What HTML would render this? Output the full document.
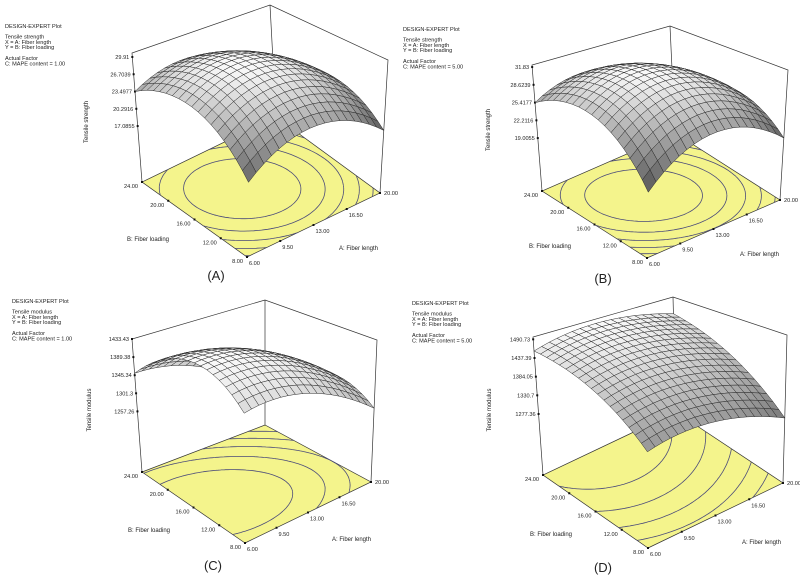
<!DOCTYPE html>
<html><head><meta charset="utf-8"><style>
html,body{margin:0;padding:0;background:#fff}
svg{display:block}
text{font-family:"Liberation Sans",sans-serif;fill:#222}
</style></head><body>
<svg id="fig" width="800" height="584" viewBox="0 0 800 584" xmlns="http://www.w3.org/2000/svg"></svg>
<script>
// ---- data ----
const aTicks = [6, 9.5, 13, 16.5, 20];
const bTicks = [8, 12, 16, 20, 24];
const zTicksA = [17.0855, 20.2916, 23.4977, 26.7039, 29.91];
const zTicksB = [19.0055, 22.2116, 25.4177, 28.6239, 31.83];
const zTicksC = [1257.26, 1301.3, 1345.34, 1389.38, 1433.43];
const zTicksD = [1277.36, 1330.7, 1384.05, 1437.39, 1490.73];
const zLabelsA = ["17.0855","20.2916","23.4977","26.7039","29.91"];
const zLabelsB = ["19.0055","22.2116","25.4177","28.6239","31.83"];
const zLabelsC = ["1257.26","1301.3","1345.34","1389.38","1433.43"];
const zLabelsD = ["1277.36","1330.7","1384.05","1437.39","1490.73"];
// model coefficients (coded units): b0, A, B, AB, A^2, B^2
const coefA = [29.6, -1.81, 0.96, -1.44, -5.3, -5.0];
const coefB = [31.6, -1.4, 1.15, -1.8, -5.4, -5.15];
const coefC = [1410.5, -59.5, -23.5, -15.5, -40, -72];
const coefD = [1434, -15.8, 74.7, 7.2, -35, -25];

const panels = [
 {id:"a", resp:"Tensile strength", mape:"1.00", label:"(A)", coef:coefA, zt:zTicksA, zl:zLabelsA, zF:6.7, zT:30.65, gmin:75,
  F00:[247,257],F10:[380,193],F01:[142,182],F11:[276,117],T00:[250,108],T10:[388,60],T01:[132,53],T11:[270,5],
  txt:[5,28], ylab:[88,122], blab:[127,241], alab:[339,250], plab:[216,280]},
 {id:"b", resp:"Tensile strength", mape:"5.00", label:"(B)", coef:coefB, zt:zTicksB, zl:zLabelsB, zF:9.45, zT:32.2, gmin:75,
  F00:[647,258],F10:[780,200],F01:[542,191],F11:[675,133],T00:[650,109],T10:[788,70],T01:[532,65],T11:[670,26],
  txt:[403,31], ylab:[490,130], blab:[529,248], alab:[740,256], plab:[603,283]},
 {id:"c", resp:"Tensile modulus", mape:"1.00", label:"(C)", coef:coefC, zt:zTicksC, zl:zLabelsC, zF:1109.8, zT:1433.43, gmin:140,
  F00:[245,543],F10:[371,482],F01:[142,472],F11:[265,425],T00:[244,379],T10:[377,340],T01:[132,339],T11:[265,300],
  txt:[12,303], ylab:[91,410], blab:[128,532], alab:[332,541], plab:[213,570]},
 {id:"d", resp:"Tensile modulus", mape:"5.00", label:"(D)", coef:coefD, zt:zTicksD, zl:zLabelsD, zF:1103, zT:1497.4, gmin:120,
  F00:[648,548],F10:[783,483],F01:[543,475],F11:[676,412],T00:[647,375],T10:[787,335],T01:[533,337],T11:[673,297],
  txt:[412,305], ylab:[491,410], blab:[530,536], alab:[742,544], plab:[603,572]}
];

const NS="http://www.w3.org/2000/svg";
const svg=document.getElementById('fig');
function mk(tag, attrs, parent){const e=document.createElementNS(NS,tag);for(const k in attrs)e.setAttribute(k,attrs[k]);(parent||svg).appendChild(e);return e;}
function lerp2(p,q,t){return [p[0]+(q[0]-p[0])*t,p[1]+(q[1]-p[1])*t];}
function proj(p,a,b,zf){
  const f=lerp2(lerp2(p.F00,p.F10,a),lerp2(p.F01,p.F11,a),b);
  const t=lerp2(lerp2(p.T00,p.T10,a),lerp2(p.T01,p.T11,a),b);
  return lerp2(f,t,zf);
}
function model(c,a,b){const x=2*a-1,y=2*b-1;return c[0]+c[1]*x+c[2]*y+c[3]*x*y+c[4]*x*x+c[5]*y*y;}
const aScale=v=>(v-6)/14, bScale=v=>(v-8)/16;
function pstr(arr){return arr.map(q=>q[0].toFixed(1)+","+q[1].toFixed(1)).join(" ");}

panels.forEach(p=>{
  const g=mk('g',{});
  
  
  const zs=v=>(v-p.zF)/(p.zT-p.zF);
  const info=mk('text',{x:p.txt[0],y:p.txt[1],'font-size':'5.6'},g);
  
  
  const lines=[["DESIGN-EXPERT Plot",0],[p.resp,10.5],["X = A: Fiber length",15.8],["Y = B: Fiber loading",21.1],["Actual Factor",32],["C: MAPE content = "+p.mape,37.3]];
  lines.forEach(l=>{const ts=mk('tspan',{x:p.txt[0],y:p.txt[1]+l[1]},info);ts.textContent=l[0];});
  const floor=mk('polygon',{points:pstr([p.F00,p.F10,p.F11,p.F01]),fill:'#f4f48c',stroke:'#333','stroke-width':0.7},g);
  
  
  const G=60, vals=[];
  let fmin=Infinity,fmax=-Infinity;
  for(let i=0;i<=G;i++){vals.push([]);for(let j=0;j<=G;j++){const v=model(p.coef,i/G,j/G);vals[i].push(v);fmin=Math.min(fmin,v);fmax=Math.max(fmax,v);}}
  let d="";
  for(let k=1;k<=5;k++){
    const L=fmin+(fmax-fmin)*k/6;
    for(let i=0;i<G;i++)for(let j=0;j<G;j++){
      const c=[[i,j],[i+1,j],[i+1,j+1],[i,j+1]];
      const pts=[];
      for(let e=0;e<4;e++){const p1=c[e],p2=c[(e+1)%4];const v1=vals[p1[0]][p1[1]],v2=vals[p2[0]][p2[1]];
        if((v1-L)*(v2-L)<0){const t=(L-v1)/(v2-v1);pts.push([(p1[0]+(p2[0]-p1[0])*t)/G,(p1[1]+(p2[1]-p1[1])*t)/G]);}}
      for(let s=0;s+1<pts.length;s+=2){const q1=proj(p,pts[s][0],pts[s][1],0),q2=proj(p,pts[s+1][0],pts[s+1][1],0);
        d+="M"+q1[0].toFixed(1)+" "+q1[1].toFixed(1)+"L"+q2[0].toFixed(1)+" "+q2[1].toFixed(1);}
    }
  }
  const cp=mk('path',{d:d,stroke:'#4a4a7a','stroke-width':0.8,fill:'none'},g);
  
  
  const box=mk('path',{d:"M"+p.F01+"L"+p.T01+"L"+p.T11+"L"+p.T10+"L"+p.F10+"M"+p.T11+"L"+p.F11,stroke:'#333','stroke-width':0.7,fill:'none'},g);
  
  
  p.zt.forEach((v,i)=>{
    const q=proj(p,0,1,zs(v));
    const tk=mk('rect',{x:q[0]-1,y:q[1]-1,width:2,height:2,fill:'#111'},g);
    
    
    const t=mk('text',{x:q[0]-3,y:q[1]+2,'font-size':'5.6','text-anchor':'end'},g);
    
    
    t.textContent=p.zl[i];
  });
  bTicks.forEach(v=>{
    const q=proj(p,0,bScale(v),0);
    const tk=mk('rect',{x:q[0]-1,y:q[1]-1,width:2,height:2,fill:'#111'},g);
    
    
    const t=mk('text',{x:q[0]-4,y:q[1]+6,'font-size':'5.6','text-anchor':'end'},g);
    
    
    t.textContent=v.toFixed(2);
  });
  aTicks.forEach((v,i)=>{
    const q=proj(p,aScale(v),0,0);
    const tk=mk('rect',{x:q[0]-1,y:q[1]-1,width:2,height:2,fill:'#111'},g);
    
    
    const last=i===aTicks.length-1;
    const t=mk('text',{x:q[0]+(last?4:2),y:q[1]+(last?2:8),'font-size':'5.6'},g);
    
    
    t.textContent=v.toFixed(2);
  });
  const N=18, cells=[];
  for(let i=0;i<N;i++)for(let j=0;j<N;j++)cells.push([i,j]);
  cells.sort((u,w)=>(w[0]+w[1])-(u[0]+u[1]));
  const sg=mk('g',{stroke:'#2a2a2a','stroke-width':0.5},g);
  
  
  cells.forEach(([i,j])=>{
    const cs=[[i,j],[i+1,j],[i+1,j+1],[i,j+1]];
    let zsum=0;
    const pts=cs.map(([x,y])=>{const v=model(p.coef,x/N,y/N);zsum+=v;return proj(p,x/N,y/N,zs(v));});
    const t=(zsum/4-fmin)/(fmax-fmin);
    const gv=Math.round(p.gmin+(250-p.gmin)*t);
    const poly=mk('polygon',{points:pstr(pts),fill:`rgb(${gv},${gv},${gv})`},sg);
    
    
  });
  const yl=mk('text',{x:p.ylab[0],y:p.ylab[1],'font-size':'6','text-anchor':'middle',transform:`rotate(-90 ${p.ylab[0]} ${p.ylab[1]})`},g);
  
  
  yl.textContent=p.resp;
  const bl=mk('text',{x:p.blab[0],y:p.blab[1],'font-size':'6'},g);
  
  
  bl.textContent="B: Fiber loading";
  const al=mk('text',{x:p.alab[0],y:p.alab[1],'font-size':'6'},g);
  
  
  al.textContent="A: Fiber length";
  const pl=mk('text',{x:p.plab[0],y:p.plab[1],'font-size':'13','text-anchor':'middle'},g);
  
  
  pl.textContent=p.label;
});
</script>
</body></html>
